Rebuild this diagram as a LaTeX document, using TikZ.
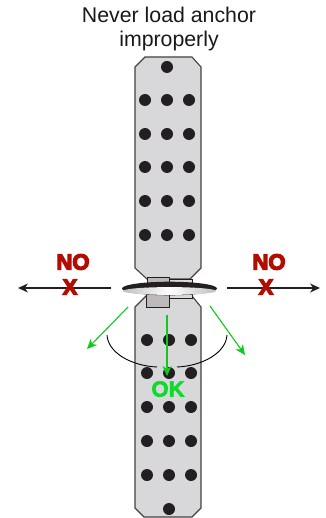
\documentclass[tikz,border=0pt]{standalone}
\usepackage{fontspec}
\setmainfont{Liberation Sans}
\newcommand{\strokedtext}[3]{\special{pdf:code q 2 Tr #1 w #2 RG}#3\special{pdf:code 0 Tr Q}}
\usetikzlibrary{arrows.meta}
\definecolor{plategray}{HTML}{D8D8DA}
\definecolor{collargray}{HTML}{BDB9B8}
\definecolor{collarlight}{HTML}{DADADA}
\definecolor{dotblack}{HTML}{231F20}
\definecolor{noRed}{HTML}{B30D00}
\definecolor{okGreen}{HTML}{0CDC2C}
\definecolor{arrowGreen}{HTML}{12C81E}
\tikzset{
  plate/.style={fill=plategray,draw=dotblack!85,line width=1.1pt},
  collar/.style={fill=collargray,draw=dotblack,line width=.9pt},
  collarb/.style={fill=collarlight,draw=dotblack,line width=.9pt},
  hole/.style={circle,fill=dotblack,inner sep=0pt,minimum size=12pt},
  title/.style={font=\fontsize{21.3}{24}\selectfont,text=black!90,align=center},
  nomark/.style={font=\fontsize{22}{22}\selectfont\bfseries,text=noRed},
  okmark/.style={font=\fontsize{22}{22}\selectfont\bfseries,text=okGreen},
  blackarrow/.style={draw=dotblack,line width=1.3pt,-{Stealth[length=10pt,width=9pt]}},
  greenarrow/.style={draw=arrowGreen,line width=1.1pt,-{Stealth[length=10pt,width=9pt,inset=3pt]}},
  turn/.style={draw=black,line width=.9pt}
}
\begin{document}
\begin{tikzpicture}[x=1pt,y=-1pt]
\useasboundingbox (0,0) rectangle (325,518);
\fill[white] (0,0) rectangle (325,518);
% plates
\draw[plate] (145,57) -- (192,57) -- (201,67) -- (201,268) -- (190,279) -- (147,279) -- (135,268) -- (135,67) -- cycle;
\draw[plate] (146,296) -- (192,296) -- (201,307) -- (201,508) -- (192,517) -- (144,517) -- (135,508) -- (135,307) -- cycle;
% collars
\draw[collarb] (169,279) rectangle (192,286);
\draw[collar] (147,277) rectangle (169,286);
\draw[collarb] (169,294) rectangle (192,298);
\draw[collar] (146.5,294) rectangle (169,307);
% ring
\fill[dotblack] (169.5,288.5) ellipse [x radius=47.5,y radius=6.8];
\shade[left color=black!25,right color=black!25,middle color=white] (169.5,291) ellipse [x radius=46.5,y radius=3.9];
% holes
\node[hole] (u0) at (167,67) {};
\foreach \r/\y in {1/100,2/134,3/167,4/201,5/235}
  \foreach \c/\x in {1/145,2/167,3/189}
    \node[hole] (u\r\c) at (\x,\y) {};
\foreach \r/\y in {1/340,2/373,3/407,4/441,5/475}
  \foreach \c/\x in {1/147,2/169,3/191}
    \node[hole] (l\r\c) at (\x,\y) {};
\node[hole] (l0) at (169,509) {};
% title
\node[title] (cap) at (169,29) {Never load anchor\\improperly};
% labels
\node[nomark] (noL) at (73,262) {\strokedtext{1.3}{0.7 0.05 0}{NO}};
\node[nomark] (noR) at (269,262) {\strokedtext{1.3}{0.7 0.05 0}{NO}};
\node[okmark] (ok) at (168,389) {\strokedtext{0.6}{0.05 0.86 0.17}{OK}};
% arrows
\coordinate (ls) at (111,288); \coordinate (le) at (18,288);
\coordinate (rs) at (227,288); \coordinate (re) at (320,288);
\draw[blackarrow] (ls) -- (le);
\draw[blackarrow] (rs) -- (re);
\node[nomark] (xL) at (70,287) {\strokedtext{1.3}{0.7 0.05 0}{X}};
\node[nomark] (xR) at (266,287) {\strokedtext{1.3}{0.7 0.05 0}{X}};
\coordinate (g1s) at (128,307); \coordinate (g1e) at (87,349);
\coordinate (g2s) at (167,315); \coordinate (g2e) at (167,376);
\coordinate (g3s) at (210,306); \coordinate (g3e) at (245,355);
% rotation
\coordinate (t1) at (107,335); \coordinate (t2) at (157,367);
\coordinate (t3) at (177,367); \coordinate (t4) at (227,335);
\draw[turn] (t1) .. controls (108,353) and (132,366) .. (t2);
\draw[turn] (t3) .. controls (202,366) and (226,353) .. (t4);
\draw[greenarrow] (g1s) -- (g1e);
\draw[greenarrow] (g2s) -- (g2e);
\draw[greenarrow] (g3s) -- (g3e);
\end{tikzpicture}
\end{document}
